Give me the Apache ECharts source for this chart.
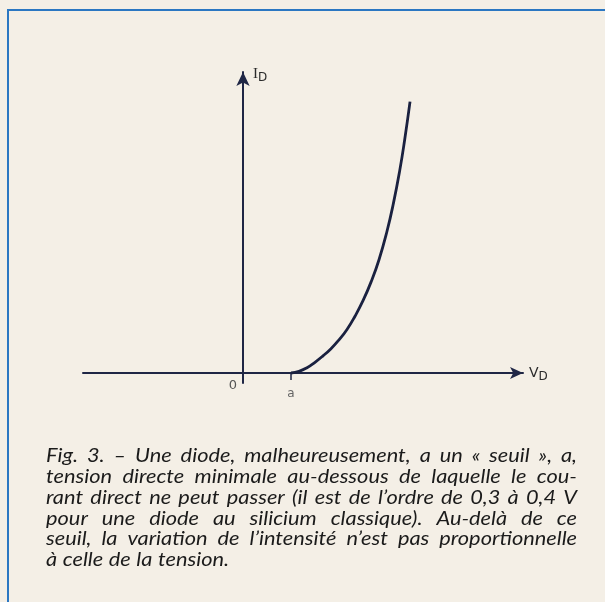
<!DOCTYPE html>
<html>
<head>
<meta charset="utf-8">
<script src="https://cdn.jsdelivr.net/npm/echarts@6/dist/echarts.min.js"></script>
<style>
  html, body { margin: 0; padding: 0; background: #f4efe6; }
  #chart { width: 605px; height: 602px; }
</style>
</head>
<body>
<div id="chart"></div>
<script>
// Forward characteristic of a diode: current stays at zero up to the threshold a,
// then rises steeply (arbitrary units, threshold a = 3).
const thresholdA = 3;
const vD = [3, 3.5, 4.0, 4.5, 5.0, 5.5, 6.0, 6.5, 7.0, 7.5, 8.0, 8.5, 9.0, 9.4, 9.8, 10.1, 10.44];
const iD = [0, 0.1, 0.33, 0.67, 1.07, 1.52, 2.07, 2.72, 3.55, 4.52, 5.68, 7.08, 8.86, 10.6, 12.68, 14.55, 16.96];
const xTickLabels = ['0', 'a'];
const captionLines = [
  'Fig. 3. – Une diode, malheureusement, a un « seuil », a,',
  'tension directe minimale au-dessous de laquelle le cou-',
  'rant direct ne peut passer (il est de l’ordre de 0,3 à 0,4 V',
  'pour une diode au silicium classique). Au-delà de ce',
  'seuil, la variation de l’intensité n’est pas proportionnelle',
  'à celle de la tension.'
];

const ink = '#1f2645';
const curve = vD.map((v, i) => [v, iD[i]]);

// Justified caption: each word is placed separately (slightly widened) so every
// line but the last fills the same width.
const capFont = 'italic 20px Lato';
const capStretch = 1.09;
const capLeft = 46, capRight = 577, capTop = 462, capStep = 20.7;
const measurer = document.createElement('canvas').getContext('2d');
measurer.font = capFont;
const captionGraphics = [];
captionLines.forEach((line, li) => {
  const words = line.split(' ');
  const widths = words.map(w => measurer.measureText(w).width * capStretch);
  const total = widths.reduce((a, b) => a + b, 0);
  const last = li === captionLines.length - 1;
  const space = measurer.measureText(' ').width * 1.2;
  const gap = (!last && words.length > 1) ? (capRight - capLeft - total) / (words.length - 1) : space;
  let x = capLeft;
  words.forEach((w, wi) => {
    captionGraphics.push({
      type: 'text',
      silent: true,
      x: x, y: capTop + li * capStep - 6,
      scaleX: capStretch,
      style: {
        text: w, x: 0, y: 0,
        font: capFont, fill: '#1b1b1b',
        textAlign: 'left', textVerticalAlign: 'middle'
      }
    });
    x += widths[wi] + gap;
  });
});

const chart = echarts.init(document.getElementById('chart'), null, { renderer: 'canvas' });
chart.setOption({
  backgroundColor: '#f4efe6',
  animation: false,
  grid: { left: 83, right: 82, top: 72, bottom: 219 },
  xAxis: {
    type: 'value', min: -10, max: 17.5,
    name: '{v|V}{d|D}',
    nameLocation: 'end', nameGap: 6,
    nameTextStyle: {
      rich: {
        v: { fontFamily: 'DejaVu Sans', fontSize: 14, color: '#2a2a2a' },
        d: { fontFamily: 'DejaVu Sans', fontSize: 12, color: '#2a2a2a', padding: [8, 0, 0, 0] }
      }
    },
    axisLine: { onZero: true, symbol: ['none', 'arrow'], symbolSize: [9, 13],
      lineStyle: { color: ink, width: 2 } },
    axisTick: { show: true, customValues: [thresholdA], length: 7, lineStyle: { color: ink, width: 1.5 } },
    axisLabel: {
      show: true, customValues: [0, thresholdA], margin: -4,
      formatter: v => (v === 0 ? '{z|' + xTickLabels[0] + '}' : '{a|' + xTickLabels[1] + '}'),
      rich: {
        z: { fontFamily: 'DejaVu Sans', fontSize: 13, color: '#555', padding: [0, 20, 0, 0] },
        a: { fontFamily: 'DejaVu Sans', fontSize: 12, color: '#666', padding: [9, 0, 0, 0] }
      }
    },
    splitLine: { show: false }
  },
  yAxis: {
    type: 'value', min: -0.625, max: 18.8125,
    name: '{i|I}{d|D}',
    nameLocation: 'end', nameGap: -12,
    nameTextStyle: {
      align: 'left', padding: [0, 0, 0, 10],
      rich: {
        i: { fontFamily: 'Liberation Serif', fontSize: 15, color: '#2a2a2a' },
        d: { fontFamily: 'DejaVu Sans', fontSize: 12, color: '#2a2a2a', padding: [8, 0, 0, 0] }
      }
    },
    axisLine: { onZero: true, symbol: ['none', 'arrow'], symbolSize: [10, 14],
      lineStyle: { color: ink, width: 2 } },
    axisTick: { show: false },
    axisLabel: { show: false },
    splitLine: { show: false }
  },
  series: [{
    type: 'line',
    data: curve,
    smooth: true,
    showSymbol: false,
    symbol: 'none',
    lineStyle: { color: '#1a2140', width: 2.8 },
    z: 3
  }],
  graphic: [
    {
      type: 'rect', silent: true, z: -1,
      shape: { x: 8, y: 10, width: 900, height: 900 },
      style: { fill: 'none', stroke: '#2b77c2', lineWidth: 2 }
    }
  ].concat(captionGraphics)
});
</script>
</body>
</html>
